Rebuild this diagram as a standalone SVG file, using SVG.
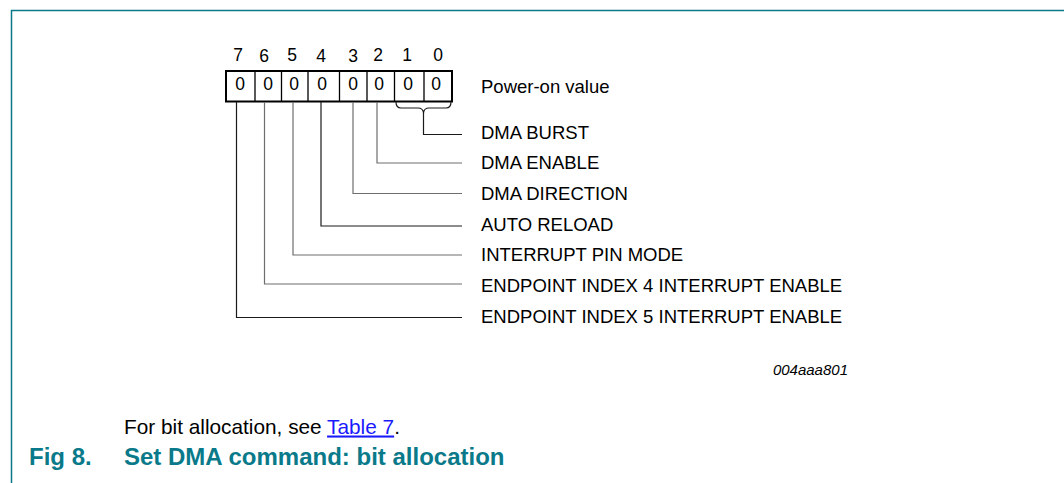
<svg xmlns="http://www.w3.org/2000/svg" width="1064" height="483" viewBox="0 0 1064 483">
<style>
.t{font-family:"Liberation Sans",Arial,sans-serif;font-size:18.5px;fill:#000}
.d{font-family:"Liberation Sans",Arial,sans-serif;font-size:17.5px;fill:#000;text-anchor:middle}
.ln{fill:none;stroke:#1a1a1a;stroke-width:1.2}
.g{stroke:#6e6e6e}
.cap{font-family:"Liberation Sans",Arial,sans-serif;font-weight:bold;font-size:24px;fill:#0a7a8a}
</style>
<rect width="1064" height="483" fill="#fff"/>
<path d="M11.5,483 V10.5 H1064" fill="none" stroke="#0a7a8a" stroke-width="1.5"/>
<g id="register">
<rect x="226" y="71" width="226" height="30.5" fill="#fff" stroke="#000" stroke-width="2"/>
<path d="M255,71V101.5M281.5,71V101.5M308,71V101.5M339.5,71V101.5M367,71V101.5M394.5,71V101.5M424,71V101.5" stroke="#000" stroke-width="1.3"/>
<g class="d">
<text x="238" y="61">7</text><text x="264" y="62">6</text><text x="292" y="61">5</text><text x="321" y="62">4</text>
<text x="353" y="62">3</text><text x="378" y="61">2</text><text x="407" y="61">1</text><text x="438" y="61">0</text>
<text x="240" y="90">0</text><text x="268" y="90">0</text><text x="294" y="90">0</text><text x="322" y="90">0</text>
<text x="353" y="90">0</text><text x="379" y="90">0</text><text x="408" y="90">0</text><text x="436" y="90">0</text>
</g>
</g>
<g id="connectors" class="ln">
<path d="M396,102 Q396,108 401,108 H418 Q423,108 423.5,113 Q424,108 429,108 H446 Q451,108 451,102"/>
<path d="M423.5,113 V134.5 H462"/>
<path class="g" d="M377,102 V163 H462"/>
<path class="g" d="M353,102 V193.5 H462"/>
<path d="M321,102 V226 H462"/>
<path class="g" d="M293,102 V255 H462"/>
<path class="g" d="M264.5,102 V284 H462"/>
<path d="M236.5,102 V317.5 H462"/>
</g>
<g id="labels" class="t">
<text x="481" y="93">Power-on value</text>
<text x="481" y="138.5">DMA BURST</text>
<text x="481" y="169">DMA ENABLE</text>
<text x="481" y="200">DMA DIRECTION</text>
<text x="481" y="230.5">AUTO RELOAD</text>
<text x="481" y="261">INTERRUPT PIN MODE</text>
<text x="481" y="291.5">ENDPOINT INDEX 4 INTERRUPT ENABLE</text>
<text x="481" y="323">ENDPOINT INDEX 5 INTERRUPT ENABLE</text>
</g>
<text x="848" y="375" text-anchor="end" font-family="Liberation Sans,Arial,sans-serif" font-style="italic" font-size="15">004aaa801</text>
<text x="124" y="433.5" font-family="Liberation Sans,Arial,sans-serif" font-size="20.8">For bit allocation, see <tspan fill="#1a1aff" text-decoration="underline">Table 7</tspan>.</text>
<text class="cap" x="29" y="464.5">Fig 8.</text>
<text class="cap" x="124" y="464.5">Set DMA command: bit allocation</text>
</svg>
